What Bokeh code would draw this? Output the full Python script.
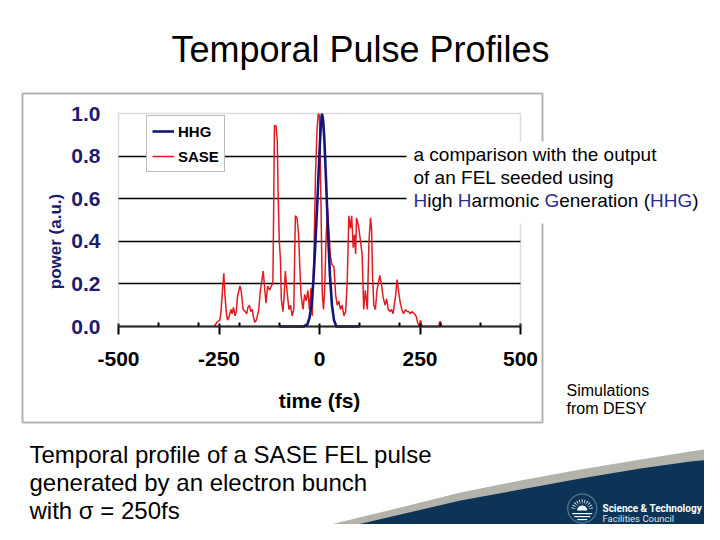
import math
from bokeh.plotting import figure
from bokeh.models import (Range1d, FixedTicker, Label, BoxAnnotation, LinearAxis, Grid,
                          PolyAnnotation, Legend, LegendItem)
from bokeh.embed import file_html
from bokeh.resources import INLINE

# ---------------- data ----------------
hhg_time = [-100, -40, -30, -25, -20, -15, -10, -5, 0, 3, 6, 9, 12, 16,
            21, 26, 31, 36, 42, 100]
hhg_power = [0.0, 0.0, 0.01, 0.04, 0.10, 0.22, 0.40, 0.60, 0.82, 0.93, 1.0,
             0.97, 0.88, 0.70, 0.45, 0.24, 0.10, 0.03, 0.0, 0.0]

sase_time = [-262, -255, -248, -245, -241, -238, -235, -232, -229, -226,
             -220, -217, -214, -210, -207, -204, -198, -195, -190, -185,
             -181, -178, -174, -171, -167, -165, -161, -157, -151, -147,
             -140, -136, -133, -129, -124, -120, -116, -114, -112, -108,
             -105, -103, -100, -97, -95, -91, -88, -85, -81, -76,
             -72, -68, -64, -62, -60, -56, -52, -49, -46, -41,
             -37, -33, -29, -25, -21, -18, -14, -10, -6, -3,
             0, 2, 5, 7, 10, 13, 16, 20, 24, 27,
             31, 36, 40, 44, 48, 52, 56, 61, 65, 69,
             73, 77, 80, 84, 87, 90, 92, 95, 98, 102,
             106, 110, 114, 119, 123, 127, 129.5, 132, 135, 139,
             143, 150, 154, 158, 163, 167, 171, 175, 179, 183,
             189, 193, 197, 201, 205, 209, 214, 218, 222, 226,
             230, 236, 240, 244, 248, 251, 255, 296, 300, 304]
sase_power = [0.0, 0.02, 0.03, 0.07, 0.18, 0.25, 0.14, 0.07, 0.03, 0.04,
              0.08, 0.06, 0.09, 0.05, 0.07, 0.14, 0.19, 0.17, 0.08, 0.07,
              0.06, 0.09, 0.10, 0.07, 0.08, 0.05, 0.02, 0.03, 0.08, 0.17,
              0.26, 0.17, 0.11, 0.19, 0.17, 0.19, 0.20, 0.55, 0.945, 0.94,
              0.87, 0.63, 0.40, 0.31, 0.13, 0.07, 0.14, 0.26, 0.17, 0.08,
              0.10, 0.05, 0.08, 0.30, 0.52, 0.51, 0.43, 0.28, 0.15, 0.08,
              0.15, 0.12, 0.17, 0.08, 0.18, 0.05, 0.32, 0.71, 0.93, 1.0,
              0.99, 0.79, 0.40, 0.15, 0.08, 0.18, 0.40, 0.55, 0.43, 0.33,
              0.29, 0.28, 0.15, 0.10, 0.12, 0.08, 0.10, 0.05, 0.07, 0.21,
              0.52, 0.46, 0.52, 0.37, 0.43, 0.34, 0.51, 0.49, 0.46, 0.40,
              0.34, 0.08, 0.17, 0.08, 0.40, 0.51, 0.46, 0.24, 0.10, 0.08,
              0.17, 0.24, 0.20, 0.14, 0.10, 0.13, 0.08, 0.07, 0.08, 0.06,
              0.14, 0.22, 0.16, 0.11, 0.08, 0.06, 0.08, 0.07, 0.07, 0.06,
              0.07, 0.06, 0.05, 0.02, 0.0, 0.03, 0.0, 0.0, 0.025, 0.0]

series_names = ["HHG", "SASE"]
x_ticks = [-500, -250, 0, 250, 500]
x_tick_labels = ["-500", "-250", "0", "250", "500"]
x_minor_ticks = [-400, -300, -200, -100, 100, 200, 300, 400]
y_ticks = [0.0, 0.2, 0.4, 0.6, 0.8, 1.0]
y_tick_labels = ["0.0", "0.2", "0.4", "0.6", "0.8", "1.0"]
grid_levels = [0.2, 0.4, 0.6, 0.8]
x_span = (-500, 500)
y_span = (0, 1)

# ---------------- styling / layout ----------------
NAVY = "#14147a"
AXNAVY = "#1c1c6e"
RED = "#e11b22"
TXTBLUE = "#2b2b8f"
SLATE = "#0b3456"
BAND = "#b3b3ab"
FONT = "Liberation Sans"

W, H = 704, 524
FL, FR, FT, FB = 118, 520, 113, 326   # where the chart area sits, in page pixels


def X(px):
    return x_span[0] + (px - FL) * (x_span[1] - x_span[0]) / float(FR - FL)


def Y(py):
    return y_span[0] + (FB - py) * (y_span[1] - y_span[0]) / float(FB - FT)


p = figure(width=W, height=H, x_range=Range1d(X(0), X(W)), y_range=Range1d(Y(H), Y(0)),
           output_backend="svg", toolbar_location=None,
           x_axis_type=None, y_axis_type=None,
           min_border_left=0, min_border_right=0, min_border_top=0, min_border_bottom=0)
p.outline_line_color = None
p.background_fill_color = "white"
p.border_fill_color = "white"

# horizontal grid lines limited to the chart area
g = Grid(dimension=1, ticker=FixedTicker(ticks=grid_levels),
         grid_line_color="black", grid_line_width=1.5)
if "cross_bounds" in Grid.properties():
    g.cross_bounds = x_span
    p.add_layout(g)
else:
    p.segment(x0=[x_span[0]] * len(grid_levels), x1=[x_span[1]] * len(grid_levels),
              y0=grid_levels, y1=grid_levels, line_color="black", line_width=1.5)

# x axis drawn on y = 0
xa = LinearAxis(fixed_location=0, bounds=x_span,
                ticker=FixedTicker(ticks=x_ticks, minor_ticks=x_minor_ticks))
xa.major_label_overrides = {t: s for t, s in zip(x_ticks, x_tick_labels)}
xa.axis_line_color = "black"
xa.axis_line_width = 2
xa.major_tick_line_color = "black"
xa.major_tick_line_width = 2
xa.major_tick_in = 3
xa.major_tick_out = 8
xa.minor_tick_line_color = "black"
xa.minor_tick_line_width = 2
xa.minor_tick_in = 4
xa.minor_tick_out = 0
xa.major_label_text_font = FONT
xa.major_label_text_font_size = "21px"
xa.major_label_text_font_style = "bold"
xa.major_label_text_color = "black"
xa.major_label_standoff = 17
xa.axis_label = "time (fs)"
xa.axis_label_text_font = FONT
xa.axis_label_text_font_size = "21px"
xa.axis_label_text_font_style = "bold"
xa.axis_label_text_color = "black"
xa.axis_label_standoff = 20
p.add_layout(xa, "below")

# y axis drawn on x = -500 (bounds stretched below 0 so its title sits lower, as in the source)
ya = LinearAxis(fixed_location=x_span[0], bounds=(-0.2, 1), ticker=FixedTicker(ticks=y_ticks))
ya.major_label_overrides = {t: s for t, s in zip(y_ticks, y_tick_labels)}
ya.axis_line_color = None
ya.major_tick_in = 0
ya.major_tick_out = 0
ya.minor_tick_in = 0
ya.minor_tick_out = 0
ya.major_label_text_font = FONT
ya.major_label_text_font_size = "21px"
ya.major_label_text_font_style = "bold"
ya.major_label_text_color = AXNAVY
ya.major_label_standoff = 18
ya.axis_label = "power (a.u.)"
ya.axis_label_text_font = FONT
ya.axis_label_text_font_size = "17px"
ya.axis_label_text_font_style = "bold"
ya.axis_label_text_color = AXNAVY
ya.axis_label_standoff = 3
p.add_layout(ya, "left")

r_sase = p.line(sase_time, sase_power, line_color=RED, line_width=1.5)
r_hhg = p.line(hhg_time, hhg_power, line_color=NAVY, line_width=2.6)

# picture frame and gray plot-area outline
p.add_layout(BoxAnnotation(left=X(22), right=X(542), top=Y(93), bottom=Y(422),
                           fill_alpha=0, line_color="black", line_width=2))
p.add_layout(BoxAnnotation(left=x_span[0], right=x_span[1], top=y_span[1], bottom=y_span[0],
                           fill_alpha=0, line_color="#8a8a8a", line_width=1.5))

legend = Legend(items=[LegendItem(label=series_names[0], renderers=[r_hhg]),
                       LegendItem(label=series_names[1], renderers=[r_sase])],
                location=(146, H - 172), orientation="vertical",
                border_line_color="#7a7a7a", border_line_width=1,
                background_fill_color="white", background_fill_alpha=1,
                label_text_font=FONT, label_text_font_size="15px",
                label_text_font_style="bold", label_text_color="black",
                glyph_width=22, glyph_height=20, label_height=20,
                label_standoff=4, spacing=5, padding=5, margin=0)
p.add_layout(legend)

# white panel behind the callout
p.add_layout(BoxAnnotation(left=X(406), right=X(W + 10), top=Y(141), bottom=Y(223),
                           fill_color="white", fill_alpha=1, line_color=None))


def text(t, px, py, size, color="black", bold=False, align="left", font=FONT):
    # py is the wanted baseline; labels render about 0.365 em lower than asked
    p.add_layout(Label(x=X(px), y=Y(py - 0.365 * size), text=t, text_font=font,
                       text_font_size=f"{size}px", text_color=color,
                       text_font_style="bold" if bold else "normal",
                       text_align=align, text_baseline="alphabetic"))


text("Temporal Pulse Profiles", 360, 62, 36, align="center")

CS = 19
text("a comparison with the output", 413, 160.5, CS)
text("of an FEL seeded using", 413, 183.5, CS)
ARIAL_W = {"H": 722, "i": 222, "g": 556, "h": 556, " ": 278, "a": 556, "r": 333,
           "m": 833, "o": 556, "n": 556, "c": 500, "G": 778, "e": 556, "t": 278,
           "(": 333, ")": 333}
segments = [("H", TXTBLUE), ("igh ", "black"), ("H", TXTBLUE), ("armonic ", "black"),
            ("G", TXTBLUE), ("eneration (", "black"), ("HHG", TXTBLUE), (")", "black")]
cx = 413.0
for seg, col in segments:
    text(seg.strip(), cx, 206.5, CS, color=col)
    cx += sum(ARIAL_W[c] for c in seg) * CS / 1000.0

text("Simulations", 566, 396, 16)
text("from DESY", 566, 413.5, 16)

text("Temporal profile of a SASE FEL pulse", 29, 462.5, 24)
text("generated by an electron bunch", 29, 491, 24)
text("with \u03c3 = 250fs", 29, 519, 24)

# bottom-right swoosh
band_top = [(272, 540), (330, 524), (400, 507), (460, 492), (520, 480), (580, 469),
            (640, 459), (690, 451), (730, 445)]
slate_top = [(285, 540), (340, 528), (400, 514), (460, 500), (520, 489), (580, 478),
             (640, 468), (690, 461), (730, 457)]
for curve, col in ((band_top, BAND), (slate_top, SLATE)):
    pts = curve + [(730, 545), (curve[0][0], 545)]
    p.add_layout(PolyAnnotation(xs=[X(a) for a, b in pts], ys=[Y(b) for a, b in pts],
                                fill_color=col, fill_alpha=1, line_color=None))

# logo: circle with rising sun
cxl, cyl, rl = 581.7, 508, 14.5
circ = [(cxl + rl * math.cos(2 * math.pi * k / 48), cyl + rl * math.sin(2 * math.pi * k / 48))
        for k in range(49)]
p.add_layout(PolyAnnotation(xs=[X(a) for a, b in circ], ys=[Y(b) for a, b in circ],
                            fill_alpha=0, line_color="white", line_width=1.3))
sun = [(cxl + 5 * math.cos(math.pi * k / 16), (cyl + 2) - 5 * math.sin(math.pi * k / 16))
       for k in range(17)]
p.add_layout(PolyAnnotation(xs=[X(a) for a, b in sun], ys=[Y(b) for a, b in sun],
                            fill_color="white", fill_alpha=1, line_color=None))
for k in range(1, 12):
    ang = math.pi * k / 12
    a1, a2 = ang - 0.05, ang + 0.05
    tri = [(cxl + 6 * math.cos(ang), cyl + 2 - 6 * math.sin(ang)),
           (cxl + 11 * math.cos(a1), cyl + 2 - 11 * math.sin(a1)),
           (cxl + 11 * math.cos(a2), cyl + 2 - 11 * math.sin(a2))]
    p.add_layout(PolyAnnotation(xs=[X(a) for a, b in tri], ys=[Y(b) for a, b in tri],
                                fill_color="white", fill_alpha=1, line_color=None))
for dy, half in ((4.5, 10), (7.5, 8), (10.5, 5)):
    bar = [(cxl - half, cyl + dy), (cxl + half, cyl + dy),
           (cxl + half, cyl + dy + 1.2), (cxl - half, cyl + dy + 1.2)]
    p.add_layout(PolyAnnotation(xs=[X(a) for a, b in bar], ys=[Y(b) for a, b in bar],
                                fill_color="white", fill_alpha=1, line_color=None))

text("Science & Technology", 602, 511.5, 10, color="white", bold=True, font="Roboto")
text("Facilities Council", 602, 521, 9.5, color="#dfe6ee", font="Roboto")

open("out.html", "w").write(file_html(p, INLINE))
